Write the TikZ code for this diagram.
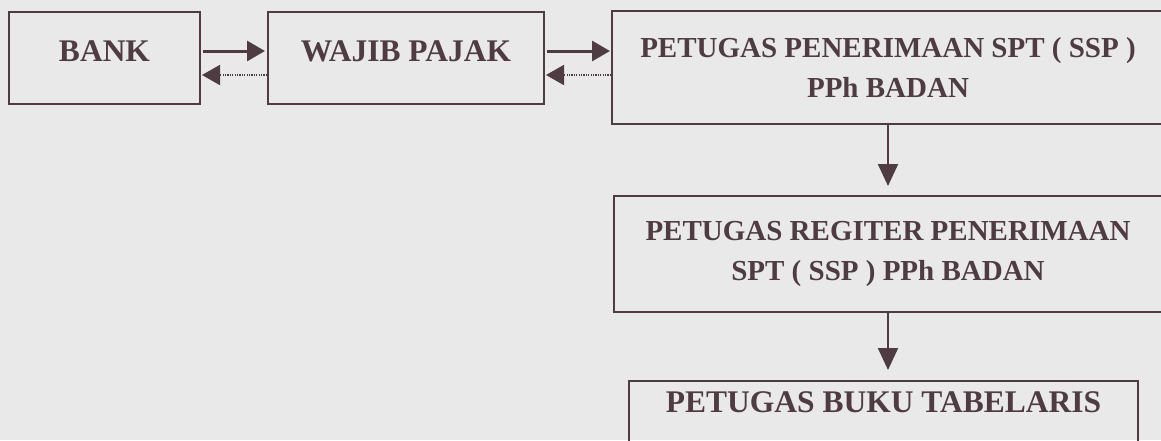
\documentclass[tikz,border=0pt]{standalone}
\usepackage{fontspec}
\setmainfont{Liberation Serif}
\usetikzlibrary{arrows.meta}
\definecolor{ink}{RGB}{78,60,66}
\definecolor{bg}{RGB}{233,233,233}
\begin{document}
\begin{tikzpicture}[x=1pt,y=-1pt,
  box/.style={draw=ink, line width=2pt, text=ink, align=center, inner sep=0pt,
    font=\bfseries\fontsize{29}{40}\selectfont},
  smallbox/.style={box, font=\bfseries\fontsize{31.5}{40}\selectfont, text height=21pt, text depth=14pt},
  solidarrow/.style={draw=ink, line width=3pt, -{Triangle[length=18pt,width=20pt]}},
  dotarrow/.style={draw=ink, line width=1.8pt, dash pattern=on 1.2pt off 1.2pt, -{Triangle[length=18pt,width=20pt]}},
  downarrow/.style={draw=ink, line width=2pt, -{Triangle[length=22pt,width=20pt]}}]
\fill[bg] (0,0) rectangle (1161,440);
\useasboundingbox (0,0) rectangle (1161,440);
\clip (0,0) rectangle (1161,440);

\node[smallbox, minimum width=191pt, minimum height=92pt] (bank) at (104.5,58) {BANK};
\node[smallbox, minimum width=276pt, minimum height=92pt] (wp) at (406,58) {WAJIB PAJAK};
\node[box, minimum width=552pt, minimum height=113pt] (p1) at (888,67.5) {PETUGAS PENERIMAAN SPT ( SSP )\\PPh BADAN};
\node[box, minimum width=548pt, minimum height=116pt] (p2) at (888,254) {PETUGAS REGITER PENERIMAAN\\SPT ( SSP ) PPh BADAN};
\node[box, font=\bfseries\fontsize{31.5}{40}\selectfont, anchor=north, minimum width=509pt,
  text height=31pt, text depth=60pt] (p3) at (883.5,380) {PETUGAS BUKU TABELARIS};

\draw[solidarrow, shorten <=2pt, shorten >=2pt] ([yshift=7pt]bank.east) -- ([yshift=7pt]wp.west);
\draw[dotarrow, shorten >=1pt] ([yshift=-17pt]wp.west) -- ([yshift=-17pt]bank.east);
\draw[solidarrow, shorten <=2pt, shorten >=1pt] ([yshift=7pt]wp.east) -- ([yshift=7pt]wp.east -| p1.west);
\draw[dotarrow, shorten >=1pt] ([yshift=-17pt]wp.east -| p1.west) -- ([yshift=-17pt]wp.east);
\draw[downarrow, shorten >=9pt] (p1.south) -- (p2.north);
\draw[downarrow, shorten >=10pt] (p2.south) -- (p2.south |- p3.north);
\end{tikzpicture}
\end{document}
